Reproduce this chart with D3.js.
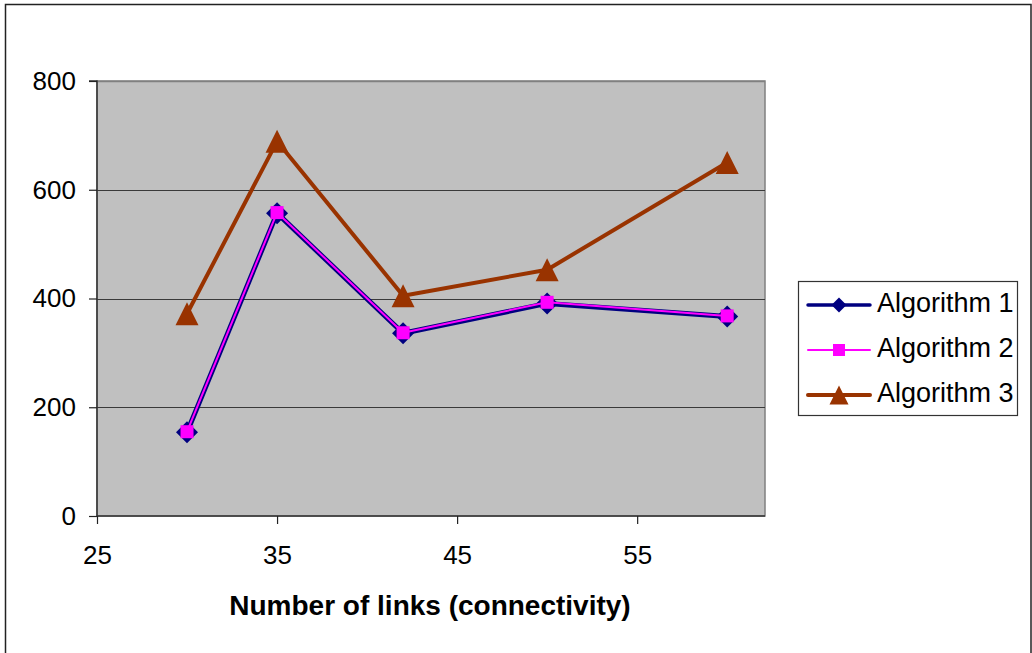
<!DOCTYPE html>
<html>
<head>
<meta charset="utf-8">
<script src="https://cdn.jsdelivr.net/npm/d3@7"></script>
<style>
  html, body { margin: 0; padding: 0; background: #fff; }
  svg { display: block; font-family: "Liberation Sans", Arial, sans-serif; }
</style>
</head>
<body>
<svg id="chart" width="1032" height="653"></svg>
<script>
const xValues = [30, 35, 42, 50, 60];
const alg1 = [154, 557, 336, 391, 367];
const alg2 = [155, 558, 337, 393, 368];
const alg3 = [372, 689, 405, 453, 650];
const seriesNames = ["Algorithm 1", "Algorithm 2", "Algorithm 3"];
const xTicks = [25, 35, 45, 55];
const yTicks = [0, 200, 400, 600, 800];
const xTitle = "Number of links (connectivity)";

const svg = d3.select("#chart");
const L = 97, R = 765, T = 81, B = 516;

const x = d3.scaleLinear().domain([25, 62.1]).range([L, R]);
const y = d3.scaleLinear().domain([0, 800]).range([B, T]);

// outer chart border
svg.append("rect").attr("x", 5.5).attr("y", 4.5).attr("width", 1025.5).attr("height", 660)
  .attr("fill", "#fff").attr("stroke", "#222").attr("stroke-width", 1.5);

// plot area
svg.append("rect").attr("x", L).attr("y", T).attr("width", R - L).attr("height", B - T)
  .attr("fill", "#c0c0c0").attr("stroke", "#808080").attr("stroke-width", 1.5);

// gridlines
svg.append("g").selectAll("line").data(yTicks.filter(d => d > 0)).join("line")
  .attr("x1", L).attr("x2", R)
  .attr("y1", d => Math.round(y(d)) + 0.5).attr("y2", d => Math.round(y(d)) + 0.5)
  .attr("stroke", d => d === 800 ? "#808080" : "#3a3a3a").attr("stroke-width", d => d === 800 ? 1.5 : 1.2);

// axes
const yAxis = d3.axisLeft(y).tickValues(yTicks).tickSize(8).tickPadding(13).tickFormat(d3.format("d"));
const gy = svg.append("g").attr("transform", `translate(${L},0)`).call(yAxis);
const xAxis = d3.axisBottom(x).tickValues(xTicks).tickSize(8).tickPadding(22).tickFormat(d3.format("d"));
const gx = svg.append("g").attr("transform", `translate(0,${B})`).call(xAxis);
[gy, gx].forEach(g => {
  g.select(".domain").attr("stroke", "#333").attr("stroke-width", 1.5);
  g.selectAll(".tick line").attr("stroke", "#222").attr("stroke-width", 1.2);
  g.selectAll(".tick text").attr("fill", "#000").style("font-size", "26px")
    .style("font-family", "'Liberation Sans', Arial, sans-serif");
});
gy.select(".domain").attr("d", `M-8,${T}H0V${B}`);
gx.select(".domain").attr("d", `M${L},0H${R}`);

// axis title
svg.append("text").attr("x", 430).attr("y", 615).attr("text-anchor", "middle")
  .style("font-size", "28px").style("font-weight", "bold").text(xTitle);

const line = d3.line().x(d => x(d[0])).y(d => y(d[1]));
const pts = arr => xValues.map((v, i) => [v, arr[i]]);

const styles = [
  { data: alg1, color: "#000080", width: 5, marker: "diamond", size: 22, lsize: 15, lwidth: 3.5 },
  { data: alg2, color: "#ff00ff", width: 2, marker: "square", size: 13, lsize: 12, lwidth: 2 },
  { data: alg3, color: "#993300", width: 4, marker: "triangle", size: 23, lsize: 19, lwidth: 4 }
];

function markerPath(type, s) {
  const h = s / 2;
  if (type === "diamond") return `M0,${-h}L${h},0L0,${h}L${-h},0Z`;
  if (type === "square") return `M${-h},${-h}H${h}V${h}H${-h}Z`;
  return `M0,${-h}L${h},${h}L${-h},${h}Z`;
}

const plotG = svg.append("g");
[2, 0, 1].forEach(i => {
  const s = styles[i];
  plotG.append("path").datum(pts(s.data)).attr("d", line)
    .attr("fill", "none").attr("stroke", s.color).attr("stroke-width", s.width)
    .attr("stroke-linejoin", "round");
  if (i === 0) {
    plotG.selectAll(".m0").data(pts(s.data)).join("path").attr("class", "m0")
      .attr("transform", d => `translate(${x(d[0])},${y(d[1])})`)
      .attr("d", markerPath(s.marker, s.size)).attr("fill", s.color);
  }
});
[2, 1].forEach(i => {
  const s = styles[i];
  plotG.selectAll(".m" + i).data(pts(s.data)).join("path").attr("class", "m" + i)
    .attr("transform", d => `translate(${x(d[0])},${y(d[1])})`)
    .attr("d", markerPath(s.marker, s.size)).attr("fill", s.color);
});

// legend
const lg = svg.append("g");
lg.append("rect").attr("x", 798.5).attr("y", 281.5).attr("width", 219).attr("height", 134)
  .attr("fill", "#fff").attr("stroke", "#333").attr("stroke-width", 1.2);
const ly = [305, 350, 395];
styles.forEach((s, i) => {
  const g = lg.append("g").attr("transform", `translate(0,${ly[i]})`);
  g.append("line").attr("x1", 808).attr("x2", 870).attr("y1", 0).attr("y2", 0)
    .attr("stroke", s.color).attr("stroke-width", s.lwidth).attr("stroke-linecap", "round");
  g.append("path").attr("transform", "translate(839,0)").attr("d", markerPath(s.marker, s.lsize)).attr("fill", s.color);
  g.append("text").attr("x", 877).attr("y", 7)
    .style("font-size", "27px").text(seriesNames[i]);
});
</script>
</body>
</html>
